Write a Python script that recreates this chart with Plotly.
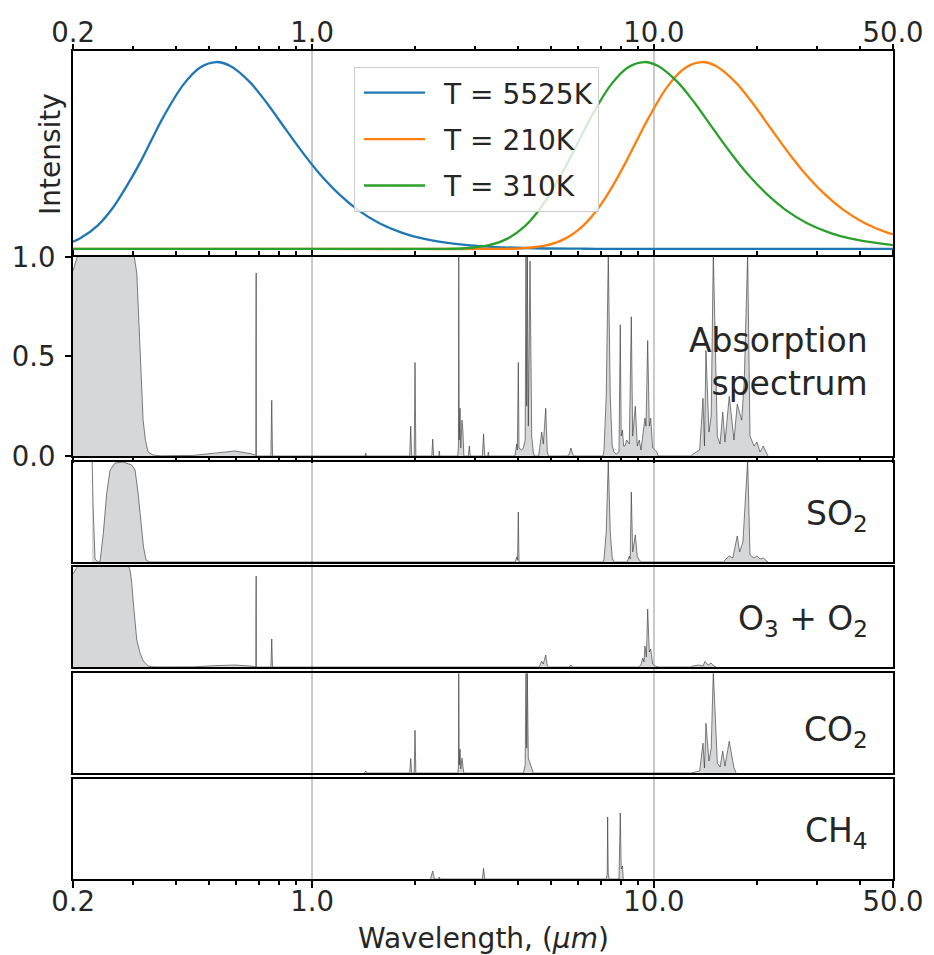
import math
import plotly.graph_objects as go

# ---------------- data ----------------
# Normalised black-body intensity curves (top panel)
wl_5525 = [0.2, 0.21, 0.236, 0.262, 0.288, 0.315, 0.341, 0.367, 0.42, 0.472, 0.5245, 0.577, 0.656,
           0.734, 0.839, 0.944, 1.049, 1.206, 1.364, 1.574, 1.836, 2.098, 2.623, 3.147, 4.196, 6.29,
           10.0, 20.0, 50.0]
int_5525 = [0.039, 0.057, 0.125, 0.222, 0.340, 0.466, 0.591, 0.704, 0.878, 0.972, 1.0, 0.979, 0.895,
            0.786, 0.638, 0.510, 0.405, 0.289, 0.208, 0.138, 0.0865, 0.0565, 0.0268, 0.0142, 0.0051,
            0.0011, 0.0002, 0.0, 0.0]

wl_210 = [0.2, 1.0, 2.0, 3.45, 4.14, 4.83, 5.52, 6.21, 6.90, 7.59, 8.28, 8.97, 9.66, 11.04, 12.42,
          13.8, 15.18, 17.25, 19.32, 22.08, 24.84, 27.6, 31.74, 35.88, 41.4, 48.3, 50.0]
int_210 = [0.0, 0.0, 0.0, 0.0004, 0.0038, 0.0187, 0.0567, 0.125, 0.222, 0.340, 0.466, 0.591, 0.704,
           0.878, 0.972, 1.0, 0.979, 0.895, 0.786, 0.638, 0.510, 0.405, 0.289, 0.208, 0.138, 0.0865,
           0.079]

wl_310 = [0.2, 1.0, 2.0, 2.34, 2.80, 3.27, 3.74, 4.21, 4.67, 5.14, 5.61, 6.08, 6.54, 7.48, 8.41,
          9.35, 10.28, 11.69, 13.09, 14.96, 16.83, 18.70, 21.50, 24.30, 28.04, 32.72, 37.39, 46.74,
          50.0]
int_310 = [0.0, 0.0, 0.0, 0.0004, 0.0038, 0.0187, 0.0567, 0.125, 0.222, 0.340, 0.466, 0.591, 0.704,
           0.878, 0.972, 1.0, 0.979, 0.895, 0.786, 0.638, 0.510, 0.405, 0.289, 0.208, 0.138, 0.0865,
           0.0565, 0.0268, 0.021]

curve_names = ["T = 5525K", "T = 210K", "T = 310K"]

# Absorption spectra: (wavelength in micron, absorption)
absorption = [
    (0.2, 0.93), (0.2035, 0.98), (0.2097, 1.05), (0.25, 1.1), (0.2997, 1.04), (0.3073, 0.92),
    (0.3142, 0.5), (0.3175, 0.33), (0.3207, 0.18), (0.3257, 0.08), (0.3316, 0.02), (0.343, 0.005),
    (0.36, 0.001), (0.45, 0.003), (0.52, 0.015), (0.595, 0.025), (0.66, 0.012), (0.683, 0.004),
    (0.6850, 0.004), (0.6855, 0.6), (0.6860, 0.2), (0.6866, 0.92), (0.6875, 0.0),
    (0.758, 0.0), (0.7625, 0.28), (0.7665, 0.0),
    (1.43, 0.0), (1.436, 0.015), (1.442, 0.0),
    (1.93, 0.0), (1.944, 0.15), (1.956, 0.0), (1.99, 0.0), (2.001, 0.47), (2.012, 0.0),
    (2.24, 0.0), (2.254, 0.085), (2.268, 0.0), (2.348, 0.0), (2.356, 0.025), (2.364, 0.0),
    (2.668, 0.0), (2.680, 0.05), (2.686, 1.02), (2.695, 0.08), (2.709, 0.24), (2.722, 0.04),
    (2.745, 0.18), (2.764, 0.12), (2.78, 0.0), (2.865, 0.0), (2.884, 0.05), (2.903, 0.0),
    (3.15, 0.0), (3.174, 0.11), (3.20, 0.0), (3.265, 0.0), (3.278, 0.02), (3.29, 0.0),
    (3.92, 0.0), (3.95, 0.04), (3.968, 0.06), (3.985, 0.03), (4.011, 0.47), (4.03, 0.04),
    (4.10, 0.03), (4.148, 0.04), (4.20, 0.08), (4.224, 1.02), (4.245, 0.25), (4.262, 1.02),
    (4.291, 0.15), (4.340, 0.98), (4.39, 0.1), (4.437, 0.02), (4.47, 0.0),
    (4.60, 0.0), (4.642, 0.05), (4.695, 0.12), (4.746, 0.06), (4.778, 0.15), (4.824, 0.24),
    (4.876, 0.02), (4.92, 0.0),
    (5.60, 0.0), (5.65, 0.01), (5.718, 0.04), (5.78, 0.01), (5.85, 0.0),
    (7.10, 0.0), (7.142, 0.03), (7.25, 0.3), (7.351, 1.02), (7.45, 0.3), (7.55, 0.05),
    (7.638, 0.02), (7.75, 0.01), (7.90, 0.02), (7.970, 0.66), (8.02, 0.1), (8.088, 0.13),
    (8.15, 0.05), (8.227, 0.05), (8.322, 0.08), (8.469, 0.06), (8.584, 0.70), (8.664, 0.1),
    (8.818, 0.25), (8.939, 0.05), (9.058, 0.08), (9.162, 0.03), (9.268, 0.1), (9.412, 0.19),
    (9.476, 0.15), (9.585, 0.58), (9.690, 0.15), (9.781, 0.19), (9.913, 0.04), (10.07, 0.03),
    (10.20, 0.02), (10.29, 0.0),
    (12.8, 0.0), (13.0, 0.01), (13.6, 0.03), (13.91, 0.29), (14.05, 0.05), (14.19, 0.53),
    (14.48, 0.12), (14.7, 0.2), (14.91, 1.02), (15.32, 0.1), (15.6, 0.06), (15.89, 0.22),
    (16.13, 0.07), (16.60, 0.30), (17.14, 0.08), (17.52, 0.26), (18.05, 0.18), (18.37, 0.38),
    (18.79, 1.02), (19.09, 0.1), (19.61, 0.05), (20.01, 0.07), (20.42, 0.02), (20.87, 0.05),
    (21.54, 0.0),
]

so2 = [
    (0.2274, 1.05), (0.2290, 0.55), (0.2320, 0.03), (0.2367, 0.0), (0.2399, 0.0), (0.2453, 0.29),
    (0.2510, 0.69), (0.2567, 0.92), (0.2655, 0.99), (0.2802, 1.0), (0.2971, 0.97), (0.3038, 0.92),
    (0.3100, 0.69), (0.3165, 0.39), (0.3215, 0.15), (0.3271, 0.02), (0.335, 0.0),
    (3.93, 0.0), (3.968, 0.05), (3.99, 0.02), (4.011, 0.5), (4.03, 0.0),
    (7.10, 0.0), (7.142, 0.03), (7.25, 0.3), (7.351, 1.02), (7.45, 0.3), (7.55, 0.04), (7.64, 0.0),
    (8.35, 0.0), (8.40, 0.03), (8.469, 0.06), (8.52, 0.03), (8.584, 0.70), (8.664, 0.1),
    (8.818, 0.27), (8.939, 0.05), (9.05, 0.02), (9.15, 0.0),
    (16.0, 0.0), (16.13, 0.02), (16.60, 0.06), (17.0, 0.04), (17.52, 0.26), (17.8, 0.1),
    (18.2, 0.2), (18.55, 0.7), (18.79, 1.02), (19.09, 0.07), (19.61, 0.04), (20.01, 0.06),
    (20.42, 0.03), (20.87, 0.04), (21.54, 0.0),
]

o3_o2 = [
    (0.2, 0.93), (0.2035, 0.98), (0.2097, 1.05), (0.25, 1.1), (0.2903, 1.02), (0.2936, 0.97),
    (0.2971, 0.84), (0.3003, 0.64), (0.3038, 0.44), (0.3073, 0.27), (0.3142, 0.14), (0.3211, 0.06),
    (0.3318, 0.01), (0.3405, 0.002), (0.36, 0.001),
    (0.45, 0.002), (0.52, 0.014), (0.595, 0.02), (0.66, 0.01), (0.683, 0.003),
    (0.6850, 0.003), (0.6855, 0.6), (0.6860, 0.2), (0.6866, 0.91), (0.6875, 0.0),
    (0.758, 0.0), (0.7625, 0.28), (0.7665, 0.0),
    (4.60, 0.0), (4.642, 0.02), (4.695, 0.06), (4.746, 0.03), (4.778, 0.08), (4.824, 0.12),
    (4.876, 0.01), (4.92, 0.0),
    (5.65, 0.0), (5.718, 0.02), (5.78, 0.0),
    (9.0, 0.0), (9.162, 0.02), (9.268, 0.09), (9.35, 0.05), (9.412, 0.21), (9.50, 0.1),
    (9.585, 0.58), (9.69, 0.15), (9.781, 0.18), (9.913, 0.03), (10.07, 0.01), (10.29, 0.0),
    (12.8, 0.0), (13.0, 0.01), (13.5, 0.02), (13.9, 0.01), (14.1, 0.056), (14.4, 0.02),
    (14.7, 0.04), (14.95, 0.01), (15.2, 0.0),
]

co2 = [
    (1.42, 0.0), (1.436, 0.02), (1.45, 0.0),
    (1.93, 0.0), (1.944, 0.145), (1.956, 0.0), (1.99, 0.0), (2.001, 0.43), (2.012, 0.0),
    (2.668, 0.0), (2.680, 0.05), (2.686, 1.02), (2.695, 0.08), (2.709, 0.24), (2.722, 0.04),
    (2.745, 0.15), (2.764, 0.06), (2.78, 0.0),
    (4.15, 0.0), (4.20, 0.08), (4.224, 1.02), (4.245, 0.25), (4.262, 1.02), (4.291, 0.15),
    (4.340, 0.1), (4.39, 0.04), (4.437, 0.0),
    (12.8, 0.0), (13.6, 0.02), (13.91, 0.3), (14.05, 0.05), (14.19, 0.5), (14.48, 0.12),
    (14.7, 0.25), (14.91, 1.02), (15.32, 0.1), (15.6, 0.06), (15.89, 0.22), (16.13, 0.07),
    (16.60, 0.32), (17.14, 0.05), (17.4, 0.0),
]

ch4 = [
    (2.22, 0.0), (2.254, 0.08), (2.28, 0.0), (2.345, 0.0), (2.356, 0.02), (2.367, 0.0),
    (3.15, 0.0), (3.174, 0.107), (3.20, 0.0),
    (7.25, 0.0), (7.30, 0.05), (7.32, 0.62), (7.35, 0.05), (7.40, 0.0),
    (7.90, 0.0), (7.97, 0.66), (8.02, 0.1), (8.088, 0.13), (8.13, 0.0),
]

panel_labels = ["Absorption<br>spectrum", "SO<sub>2</sub>", "O<sub>3</sub> + O<sub>2</sub>",
                "CO<sub>2</sub>", "CH<sub>4</sub>"]

x_major = [0.2, 1.0, 10.0, 50.0]
x_major_text = ["0.2", "1.0", "10.0", "50.0"]
x_minor = [0.3, 0.4, 0.5, 0.6, 0.7, 0.8, 0.9, 2, 3, 4, 5, 6, 7, 8, 9, 20, 30, 40]
ref_lines = [1.0, 10.0]

# ---------------- figure ----------------
TXT = "#262626"
FONT = "DejaVu Sans"
fig = go.Figure()

colors = ["#1f77b4", "#ff7f0e", "#2ca02c"]
for wl, val, name, col in zip([wl_5525, wl_210, wl_310], [int_5525, int_210, int_310],
                              curve_names, colors):
    fig.add_trace(go.Scatter(x=wl, y=val, mode="lines", name="\u2002" + name, legendgroup=name,
                             line=dict(color=col, width=2.3, shape="spline", smoothing=1.0),
                             xaxis="x", yaxis="y", hoverinfo="skip"))

spectra = [absorption, so2, o3_o2, co2, ch4]
for i, pts in enumerate(spectra):
    n = i + 2
    fig.add_trace(go.Scatter(x=[p[0] for p in pts], y=[p[1] for p in pts], mode="lines",
                             fill="tozeroy", fillcolor="#d6d7d9",
                             line=dict(color="rgba(45,45,45,0.75)", width=0.8),
                             xaxis=f"x{n}", yaxis=f"y{n}", showlegend=False, hoverinfo="skip"))

# panel geometry (paper fractions)
domains = [
    [0.7512, 1.0],
    [0.5109, 0.7512],
    [0.3829, 0.5036],
    [0.2560, 0.3768],
    [0.1280, 0.2482],
    [0.0, 0.1208],
]
xr = [math.log10(0.2), math.log10(50)]

def xaxis_base():
    return dict(type="log", range=xr, showline=True, linecolor="black", linewidth=2,
                showgrid=False, zeroline=False, tickmode="array", tickvals=x_major,
                ticktext=x_major_text, tickcolor="black", tickwidth=2,
                tickfont=dict(size=27.5, color=TXT, family=FONT))

def yaxis_base(dom, anchor):
    return dict(domain=dom, anchor=anchor, range=[0, 1], showline=True, linecolor="black",
                linewidth=2, mirror=True, showgrid=False, zeroline=False, ticks="",
                showticklabels=False, fixedrange=True)

layout = dict(
    width=934, height=955,
    margin=dict(l=73, r=41, t=51, b=76, autoexpand=False),
    paper_bgcolor="white", plot_bgcolor="rgba(0,0,0,0)",
    font=dict(family=FONT, color=TXT),
    template="none",
    showlegend=True,
    legend=dict(x=0.3427, y=0.9807, xanchor="left", yanchor="top",
                bgcolor="rgba(255,255,255,0.8)", bordercolor="#cccccc", borderwidth=1,
                font=dict(size=28, color=TXT, family=FONT), tracegroupgap=7,
                traceorder="grouped", itemwidth=61, indentation=4),
)

# top panel
xa = xaxis_base()
xa.update(domain=[0, 1], anchor="y", side="top", mirror=False, ticks="outside", ticklen=5,
          showticklabels=True, ticklabelstandoff=-9,
          minor=dict(tickmode="array", tickvals=x_minor, ticks="outside", ticklen=3,
                     tickwidth=1.5, tickcolor="black"))
layout["xaxis"] = xa
ya = yaxis_base(domains[0], "x")
ya["range"] = [-0.043, 1.059]
layout["yaxis"] = ya

# absorption panel
xa = xaxis_base()
xa.update(domain=[0, 1], anchor="y2", mirror="allticks", ticks="outside", ticklen=5,
          showticklabels=False,
          minor=dict(tickmode="array", tickvals=x_minor, ticks="outside", ticklen=4,
                     tickwidth=1.5, tickcolor="black"))
layout["xaxis2"] = xa
ya = yaxis_base(domains[1], "x2")
ya.update(ticks="outside", ticklen=6, tickwidth=2, tickcolor="black", showticklabels=True,
          tickmode="array", tickvals=[0, 0.5, 1.0], ticktext=["0.0", "0.5", "1.0"],
          tickfont=dict(size=27.5, color=TXT, family=FONT), ticklabelstandoff=4)
layout["yaxis2"] = ya

# SO2, O3+O2, CO2 panels
for n in (3, 4, 5):
    xa = xaxis_base()
    xa.update(domain=[0, 1], anchor=f"y{n}", mirror=True, ticks="", showticklabels=False)
    layout[f"xaxis{n}"] = xa
    layout[f"yaxis{n}"] = yaxis_base(domains[n - 1], f"x{n}")

# CH4 panel (bottom axis with labels)
xa = xaxis_base()
xa.update(domain=[0, 1], anchor="y6", mirror=True, ticks="outside", ticklen=7,
          showticklabels=True, ticklabelstandoff=-10,
          minor=dict(tickmode="array", tickvals=x_minor, ticks="outside", ticklen=4,
                     tickwidth=1.5, tickcolor="black"))
layout["xaxis6"] = xa
layout["yaxis6"] = yaxis_base(domains[5], "x6")

fig.update_layout(**layout)

# vertical reference lines through all panels
for v in ref_lines:
    fig.add_shape(type="line", xref="x", yref="paper", x0=v, x1=v, y0=0, y1=1,
                  line=dict(color="#b9b9bb", width=1.5), layer="below")

# panel labels
label_y = [0.6244, 0.4396, 0.3116, 0.1787, 0.0562]
for txt, yy in zip(panel_labels, label_y):
    fig.add_annotation(text=txt, xref="paper", yref="paper", x=0.972, y=yy, xanchor="right",
                       yanchor="middle", align="right", showarrow=False,
                       font=dict(size=33, color=TXT, family=FONT))

# axis titles
fig.add_annotation(text="Intensity", xref="paper", yref="paper", x=-0.028, y=0.8756,
                   textangle=-90, xanchor="center", yanchor="middle", showarrow=False,
                   font=dict(size=28, color=TXT, family=FONT))
fig.add_annotation(text="Wavelength, (<i>μm</i>)", xref="paper", yref="paper", x=0.5,
                   y=-0.0713, xanchor="center", yanchor="middle", showarrow=False,
                   font=dict(size=28, color=TXT, family=FONT))

fig.write_html("out.html")
